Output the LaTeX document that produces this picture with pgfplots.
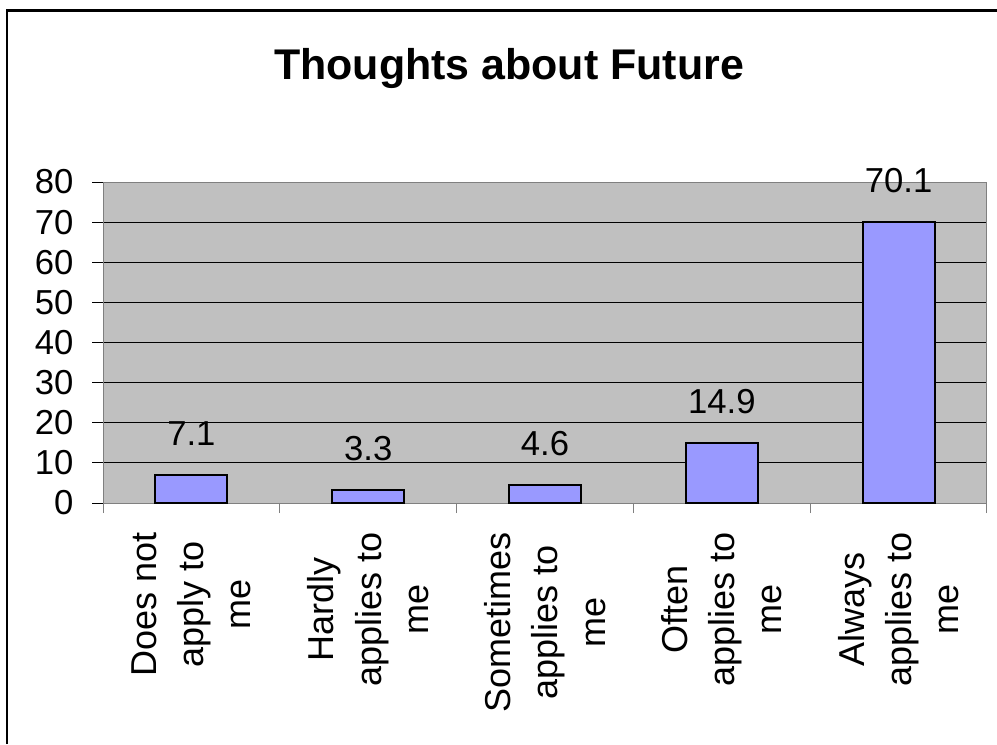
\documentclass[border=0pt]{standalone}
\usepackage{pgfplots}
\pgfplotsset{compat=1.18}
\usepackage{fontspec}
\setmainfont{Liberation Sans}

\definecolor{barfill}{HTML}{9999FF}
\definecolor{plotbg}{HTML}{C0C0C0}
\definecolor{framegray}{HTML}{808080}

\begin{document}
\begin{tikzpicture}
  % page size (997 x 744 px at 0.75pt per px)
  \useasboundingbox (0,0) rectangle (747.75pt,558pt);
  % outer frame, open at right and bottom
  \draw[line width=1.9pt] (5.25pt,0pt) -- (5.25pt,550.1pt) -- (747.75pt,550.1pt);
  % title
  \node[anchor=base, inner sep=0pt, font=\fontsize{32.2pt}{38pt}\selectfont\bfseries]
    at (381.75pt,498pt) {Thoughts about Future};

  \begin{axis}[
    at={(77.25pt,180.75pt)}, anchor=south west,
    scale only axis,
    width=663pt, height=240.75pt,
    axis background/.style={fill=plotbg},
    axis line style={framegray, line width=0.75pt},
    xmin=-0.5, xmax=4.5,
    ymin=0, ymax=80,
    ytick={0,10,...,80},
    xtick={0,1,2,3,4},
    xticklabels={{Does not\\apply to\\me},{Hardly\\applies to\\me},{Sometimes\\applies to\\me},{Often\\applies to\\me},{Always\\applies to\\me}},
    minor xtick={-0.5,0.5,...,4.5},
    major x tick style={draw=none},
    minor x tick style={framegray, line width=0.75pt},
    ytick style={black, line width=0.75pt},
    tick align=outside,
    xtick pos=bottom, ytick pos=left,
    major tick length=8pt, minor tick length=7.5pt,
    ymajorgrids,
    grid style={black, line width=0.75pt},
    /pgf/number format/assume math mode=true,
    yticklabel style={anchor=east, inner sep=0pt, font=\fontsize{26pt}{30pt}\selectfont},
    yticklabel shift=14pt,
    xticklabel style={rotate=90, anchor=east, inner sep=0pt, align=center,
                      font=\fontsize{27pt}{35.5pt}\selectfont},
    xticklabel shift=14pt,
    clip=false,
    ybar, bar width=54pt, bar shift=0pt,
    nodes near coords,
    every node near coord/.append style={anchor=south, inner sep=0pt, yshift=21pt,
                                         font=\fontsize{26pt}{30pt}\selectfont, black},
  ]
    \addplot[fill=barfill, draw=black, line width=1.5pt]
      coordinates {(0,7.1) (1,3.3) (2,4.6) (3,14.9) (4,70.1)};
  \end{axis}
\end{tikzpicture}
\end{document}
